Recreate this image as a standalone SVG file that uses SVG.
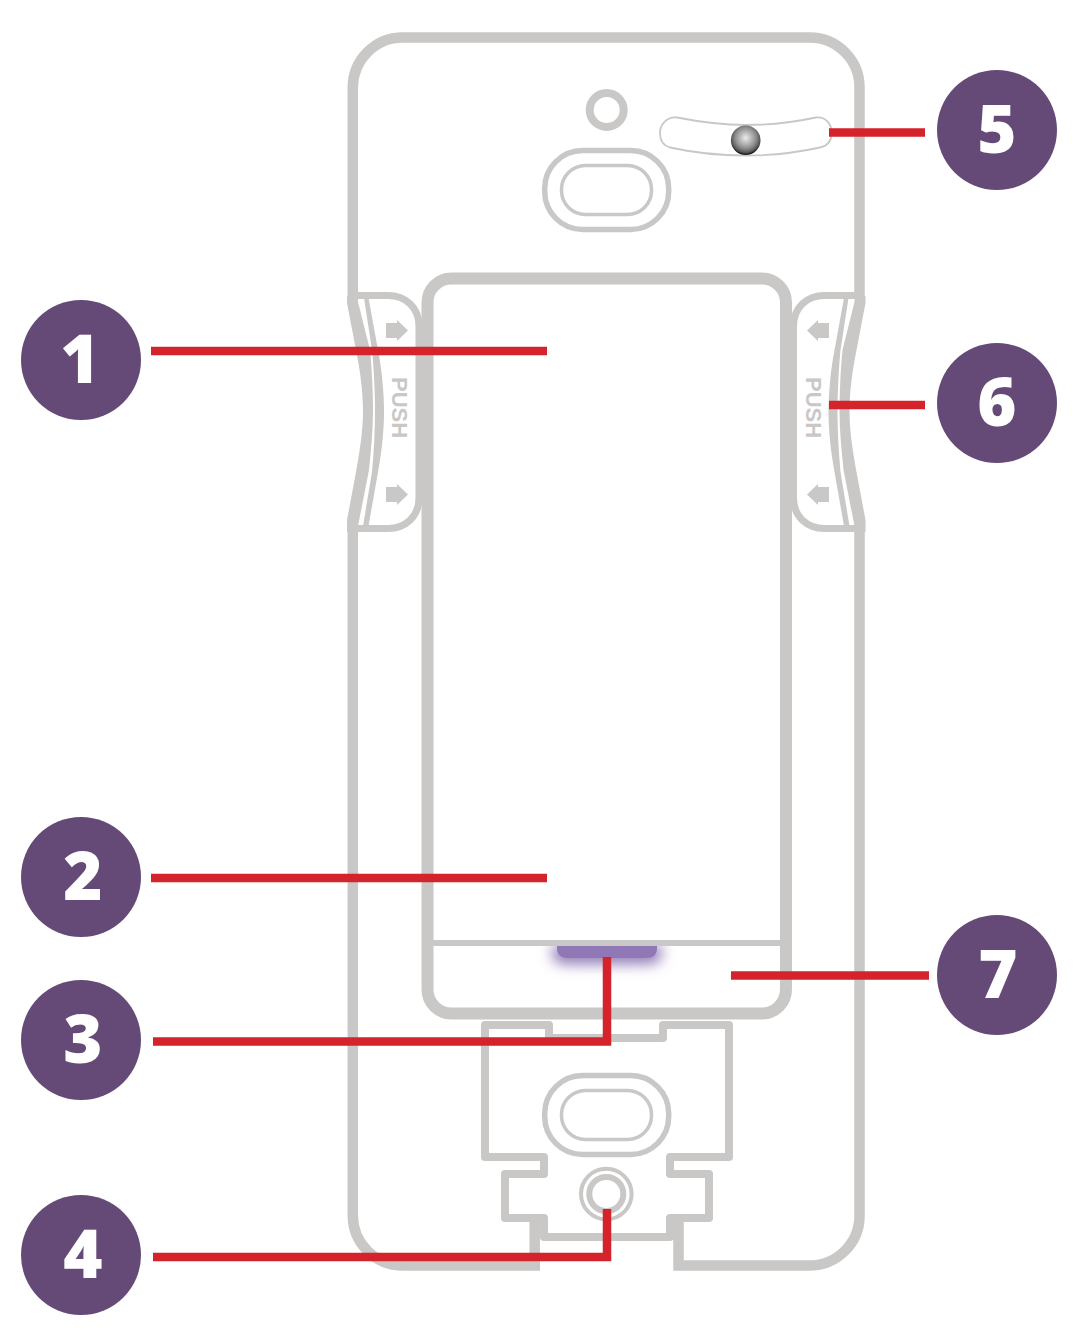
<svg xmlns="http://www.w3.org/2000/svg" width="1079" height="1331" viewBox="0 0 1079 1331">
<style>
.g{fill:none;stroke:#c9c8c6;stroke-linejoin:round}
.m{stroke-linejoin:miter}
.f{fill:#c9c8c6}
.t{font-family:"Liberation Sans",Arial,sans-serif;font-weight:700;font-size:22px;fill:#c9c8c6}
.b{fill:#654a77}
.n{font-family:"Open Sans","Liberation Sans",sans-serif;font-weight:800;font-size:67px;fill:#fff;text-anchor:middle}
.r{fill:none;stroke:#d4232b;stroke-width:8.500;stroke-linejoin:miter}
</style>
<defs>
<radialGradient id="led" cx="50%" cy="42%" r="55%">
<stop offset="0" stop-color="#ececec"/><stop offset=".65" stop-color="#8c8c8c"/><stop offset=".9" stop-color="#555"/><stop offset="1" stop-color="#1c1c1c"/>
</radialGradient>
<filter id="glow" x="-30%" y="-150%" width="160%" height="450%"><feGaussianBlur stdDeviation="7"/></filter>
<path id="arrow" d="M386 323H397V320L408 330.500L397 341V338H386Z"/>
<g id="wave">
<path class="f" d="M347 296V303L356 350C361 375 363 395 363 411C363 430 360 450 356 472L347 520V532H358V526L369 470C371 450 373 430 373 411C373 395 372 370 370 350L358 302V296Z"/>
<path class="f" d="M364 298H368.500L378 350C382 370 384 395 384 411C384 430 382 450 378 472L368.500 526H363L372 472C374 450 375 430 375 411C375 395 374 370 372 350Z"/>
<path class="g" stroke-width="7" d="M355 295.500H388C405 295.500 419 307 419 326V498C419 517 405 528.500 388 528.500H355"/>
</g>
</defs>
<rect width="1079" height="1331" fill="#fff"/>

<g id="plate">
<path class="g m" stroke-width="10.500" d="M540 1265.500H403A50 50 0 0 1 352.800 1215V530M352.800 296V88A50 50 0 0 1 403 37.500H809A50 50 0 0 1 859.500 88V296M859.500 530V1215A50 50 0 0 1 809 1265.500H678.500V1218"/>
<path class="g m" stroke-width="10.500" d="M534.700 1270V1218"/>
<circle class="g" cx="606.700" cy="110" r="17" stroke-width="8"/>
<rect class="g" x="544.700" y="150.500" width="124" height="79" rx="38" stroke-width="5.500"/>
<rect class="g" x="561.500" y="165.500" width="90" height="49" rx="24" stroke-width="3.500"/>
</g>

<g id="tab-left">
<use href="#wave"/>
<use href="#arrow" class="f"/>
<use href="#arrow" class="f" y="164"/>
<text class="t" transform="translate(392 377) rotate(90)">PUSH</text>
</g>

<g id="tab-right">
<use href="#wave" transform="translate(1212.500 0) scale(-1 1)"/>
<use href="#arrow" class="f" transform="translate(1215 0) scale(-1 1)"/>
<use href="#arrow" class="f" transform="translate(1215 164) scale(-1 1)"/>
<text class="t" transform="translate(806 377) rotate(90)">PUSH</text>
</g>

<g id="paddle">
<path d="M552 946H662V952Q662 964 648 964H566Q552 964 552 952Z" fill="#8f78b5" filter="url(#glow)"/>
<rect x="420" y="925" width="373" height="18" fill="#fff"/>
<rect class="g" x="427.500" y="278.500" width="358.500" height="735" rx="24" stroke-width="12"/>
<path class="g" stroke-width="6" d="M433 943H780"/>
<path d="M557 946H657V948Q657 958 646 958H568Q557 958 557 948Z" fill="#8f78b5"/>
</g>

<g id="sensor">
<path d="M677 117.500C700 122 725 125 746 125C767 125 795 122 816 117.500C826 116 832 125 831.700 133C831.500 141 827 146 820 147.500C795 153 767 155.500 746 155.500C725 155.500 695 153 670 147.500C664 146 660 141 660 133C660 125 667 116 677 117.500Z" fill="#fff" stroke="#c9c8c6" stroke-width="1.800"/>
<circle cx="745.700" cy="140.300" r="14.800" fill="url(#led)"/>
</g>

<g id="bracket">
<path class="g" stroke-width="8" d="M485 1025H549V1038H663V1025H729V1157H670V1174H709V1218H670V1237H544V1218H505V1174H544V1157H485Z"/>
<rect class="g" x="544.700" y="1075.500" width="124" height="79" rx="38" stroke-width="5.500"/>
<rect class="g" x="561.500" y="1090.500" width="90" height="49" rx="24" stroke-width="3.500"/>
<circle class="g" cx="606.300" cy="1194" r="25.300" stroke-width="4"/>
<circle class="g" cx="606.300" cy="1194" r="17" stroke-width="6"/>
</g>

<g id="connectors">
<path class="r" d="M151 351H547"/>
<path class="r" d="M151 878H547"/>
<path class="r" d="M153 1041.500H607V957"/>
<path class="r" d="M153 1257H607V1209"/>
<path class="r" d="M829 132.500H925"/>
<path class="r" d="M829 405H925"/>
<path class="r" d="M731 975.500H929"/>
</g>

<g id="badge-1"><circle class="b" cx="81" cy="360" r="60"/><text class="n" x="80" y="383">1</text></g>
<g id="badge-2"><circle class="b" cx="81" cy="877" r="60"/><text class="n" x="83" y="900">2</text></g>
<g id="badge-3"><circle class="b" cx="81" cy="1040" r="60"/><text class="n" x="83" y="1063">3</text></g>
<g id="badge-4"><circle class="b" cx="81" cy="1255" r="60"/><text class="n" x="83" y="1278">4</text></g>
<g id="badge-5"><circle class="b" cx="997" cy="130" r="60"/><text class="n" x="997" y="153">5</text></g>
<g id="badge-6"><circle class="b" cx="997" cy="403" r="60"/><text class="n" x="997" y="426">6</text></g>
<g id="badge-7"><circle class="b" cx="997" cy="975" r="60"/><text class="n" x="998" y="998">7</text></g>
</svg>
